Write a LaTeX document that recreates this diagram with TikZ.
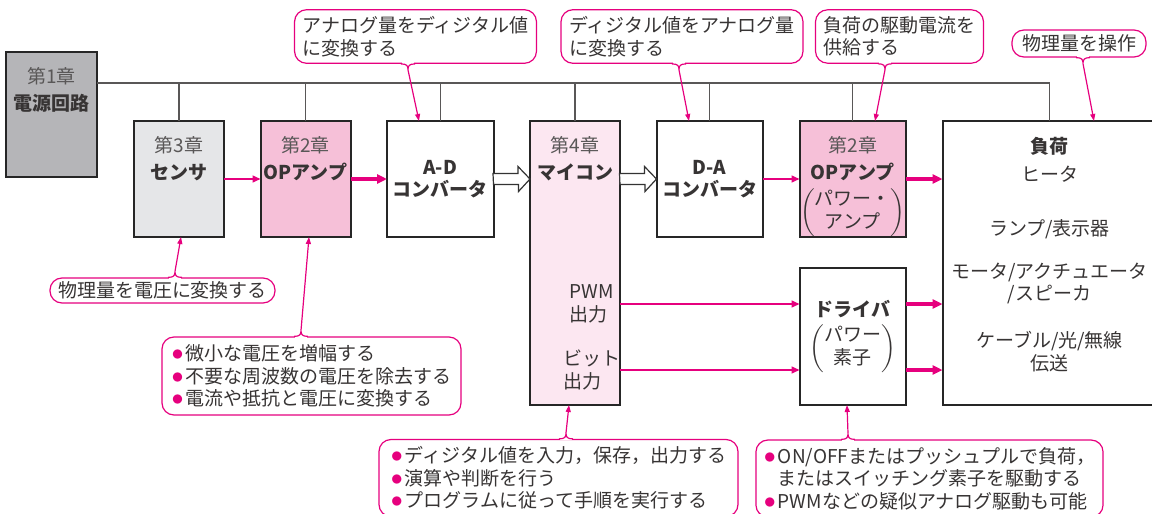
\documentclass[tikz,border=0pt]{standalone}
\usepackage{fontspec}
\setmainfont{Noto Sans CJK JP}
\definecolor{pk}{RGB}{230,0,126}
\definecolor{txt}{RGB}{55,52,52}
\definecolor{chap}{RGB}{89,87,87}
\definecolor{pwrfill}{RGB}{181,181,184}
\definecolor{sensfill}{RGB}{229,230,232}
\definecolor{opfill}{RGB}{246,192,216}
\definecolor{mcfill}{RGB}{252,231,241}
\usetikzlibrary{arrows.meta,calc,positioning}
\tikzstyle{block}=[draw=black!85,line width=1pt,minimum width=45pt,
  minimum height=58pt,inner sep=0pt,outer sep=0pt,align=center,text=txt]
\tikzstyle{wide}=[minimum width=53.25pt]
\tikzstyle{tall}=[minimum height=142pt]
\tikzstyle{lbl}=[anchor=north,inner sep=0pt,yshift=-7.75pt,align=center,text=txt]
\tikzstyle{bus}=[draw=chap,line width=.6pt]
\tikzstyle{sig}=[pk,line width=.75pt,-{Triangle[length=4pt,width=3.5pt]}]
\tikzstyle{pwrsig}=[pk,line width=1.6pt,-{Triangle[length=5pt,width=4.5pt]}]
\tikzstyle{hollow}=[draw=black!80,line width=.6pt,fill=white]
\tikzstyle{note}=[draw=pk,line width=.6pt,rounded corners=6pt,fill=white,
  align=left,inner xsep=4pt,text=txt]
\tikzstyle{ptr}=[pk,line width=.6pt,-{Triangle[length=3.5pt,width=2.5pt]}]
\newcommand{\ch}[1]{\textcolor{chap}{#1}}
\newcommand{\bul}{\makebox[7pt][l]{\textcolor{pk}{\fontsize{12.5}{12}\selectfont$\bullet$}}}
\newcommand{\paren}[1]{$\left(\begin{tabular}{@{}c@{}}#1\end{tabular}\right)$}
\newcommand{\hollowarrow}[2]{\draw[hollow] (#1) ++(0,5.5) -- ++(25,0)
  -- ++(0,7) -- (#2) -- ++(-12,-12.5) -- ++(0,7) -- ++(-25,0) -- cycle;}
% note pointer: note anchor, x at note, target anchor, x at target, direction
\newcommand{\pointer}[5]{%
  \coordinate (j) at (#2,0 |- #1);
  \fill[white] ($(j)+(-6,-1.5)$) rectangle ($(j)+(6,1.5)$);
  \draw[pk,line width=.6pt] ($(j)+(-7,0)$) .. controls ($(j)+(-1,0)$) and
  ($(j)+(0,#5*2)$) .. ($(j)+(0,#5*6)$) .. controls ($(j)+(0,#5*2)$) and
  ($(j)+(1,0)$) .. ($(j)+(7,0)$);
  \draw[ptr] ($(j)+(0,#5*6)$) -- (#4,0 |- #3);}

\begin{document}
\begin{tikzpicture}[x=.5pt,y=-.5pt,node distance=18.25pt,
  every node/.style={font=\fontsize{9.5}{11.25}\selectfont}]
  \useasboundingbox (0,0) rectangle (1152,514);
  \clip (0,0) rectangle (1152,514);

  % blocks
  \node[block,minimum width=45.5pt,minimum height=62.5pt,fill=pwrfill,
    label={[lbl]north:{\ch{第1章}\\[2.25pt]\textbf{電源回路}}}] (pwr) at (51.5,114.5) {};
  \node[block,fill=sensfill,
    label={[lbl]north:{\ch{第3章}\\[2.25pt]\textbf{センサ}}}] (sens) at (179,179) {};
  \node[block,fill=opfill,right=of sens,
    label={[lbl]north:{\ch{第2章}\\[2.25pt]\textbf{OPアンプ}}}] (opamp) {};
  \node[block,wide,right=of opamp] (ad) {\textbf{A-D}\\\textbf{コンバータ}};
  \node[block,tall,fill=mcfill,right=of ad.north east,anchor=north west,
    label={[lbl]north:{\ch{第4章}\\[2.25pt]\textbf{マイコン}}}] (mc) {};
  \node[block,wide,right=of mc.north east,anchor=north west] (da)
    {\textbf{D-A}\\\textbf{コンバータ}};
  \node[block,wide,fill=opfill,right=of da,
    label={[lbl]north:{\ch{第2章}\\[2.25pt]\textbf{OPアンプ}\\[2.5pt]\paren{パワー・\\アンプ}}}] (opp) {};
  \node[block,tall,minimum width=107pt,right=of opp.north east,anchor=north west,
    label={[lbl]north:{\textbf{負荷}\\[2.75pt]ヒータ\\[15.75pt]ランプ/表示器\\[10.25pt]%
      モータ/アクチュエータ\\/スピーカ\\[12.25pt]ケーブル/光/無線\\伝送}}] (load) {};
  \node[block,wide,minimum height=68.5pt,left=of load.south west,anchor=south east]
    (drv) {\textbf{ドライバ}\\[2.5pt]\paren{パワー\\素子}};

  \node[inner sep=0pt,anchor=west,align=left,text=txt] (pwm) at (569,304) {PWM\\出力};
  \node[inner sep=0pt,anchor=west,align=left,text=txt] (bit) at (563,370) {ビット\\出力};

  % power bus
  \draw[bus] (pwr.east |- 0,83) -| (load.north);
  \foreach \n in {sens,opamp,ad,mc,da,opp}
    \draw[bus] (\n.north) -- (\n.north |- 0,83);

  % signals
  \draw[sig] (sens) -- (opamp);
  \draw[pwrsig] (opamp) -- (ad);
  \hollowarrow{ad.east}{mc.west |- ad.east}
  \hollowarrow{mc.east |- da.west}{da.west}
  \draw[sig] (da) -- (opp);
  \draw[pwrsig] (opp) -- (opp -| load.west);
  \foreach \s in {pwm,bit} {
    \draw[sig] (\s -| mc.east) -- (\s -| drv.west);
    \draw[pwrsig] (\s -| drv.east) -- (\s -| load.west);
  }

  % notes
  \node[note,minimum width=120.5pt,minimum height=26.5pt] (ntad) at (415.5,36.5)
    {アナログ量をディジタル値\\に変換する};
  \node[note,minimum width=121pt,minimum height=26.5pt] (ntda) at (682,36.5)
    {ディジタル値をアナログ量\\に変換する};
  \node[note,minimum width=83.5pt,minimum height=26.5pt] (ntopp) at (899.5,36.5)
    {負荷の駆動電流を\\供給する};
  \node[note,minimum width=67pt,minimum height=13.5pt,inner ysep=1pt] (ntload)
    at (1079,43.5) {物理量を操作};
  \node[note,minimum width=112.5pt,minimum height=12.5pt,inner ysep=1pt] (ntsens)
    at (162.5,290.5) {物理量を電圧に変換する};
  \node[note,minimum width=149.5pt,minimum height=39pt] (ntop) at (311.5,376)
    {\bul 微小な電圧を増幅する\\\bul 不要な周波数の電圧を除去する\\\bul 電流や抵抗と電圧に変換する};
  \node[note,minimum width=179.5pt,minimum height=38.5pt] (ntmc) at (558.5,478)
    {\bul ディジタル値を入力，保存，出力する\\\bul 演算や判断を行う\\\bul プログラムに従って手順を実行する};
  \node[note,minimum width=172.5pt,minimum height=38.5pt] (ntdrv) at (929.5,478.5)
    {\bul ON/OFFまたはプッシュプルで負荷，\\\hspace*{7pt}またはスイッチング素子を駆動する\\\bul PWMなどの疑似アナログ駆動も可能};

  \pointer{ntad.south}{408}{ad.north}{419}{1}
  \pointer{ntda.south}{679}{da.north}{689}{1}
  \pointer{ntopp.south}{885}{opp.north}{875}{1}
  \pointer{ntload.south}{1083}{load.north}{1094}{1}
  \pointer{ntsens.north}{175}{sens.south}{181}{-1}
  \pointer{ntop.north}{301}{opamp.south}{309}{-1}
  \pointer{ntmc.north}{566}{mc.south}{569}{-1}
  \pointer{ntdrv.north}{848}{drv.south}{847}{-1}
\end{tikzpicture}
\end{document}
